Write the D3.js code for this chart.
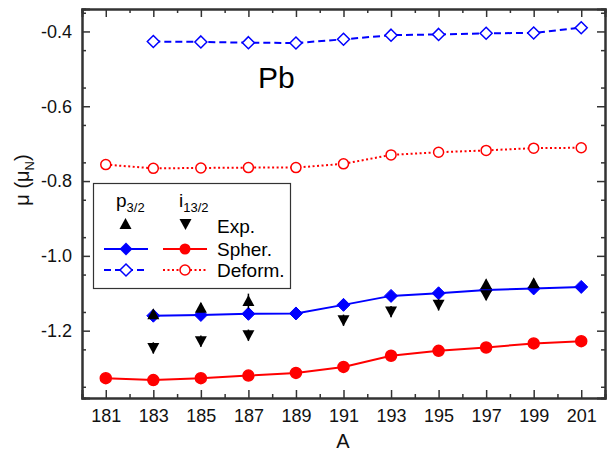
<!DOCTYPE html>
<html>
<head>
<meta charset="utf-8">
<script src="https://cdn.jsdelivr.net/npm/d3@7"></script>
<style>
  body { margin: 0; background: #fff; }
  svg { display: block; font-family: "Liberation Sans", Arial, sans-serif; }
</style>
</head>
<body>
<svg id="chart" width="608" height="453"></svg>
<script>
// mass numbers
const pA = [183, 185, 187, 189, 191, 193, 195, 197, 199, 201];
const iA = [181, 183, 185, 187, 189, 191, 193, 195, 197, 199, 201];

// p3/2 (blue) and i13/2 (red) calculations
const pSpher  = [-1.160, -1.158, -1.155, -1.154, -1.131, -1.107, -1.100, -1.091, -1.087, -1.083];
const pDeform = [-0.427, -0.428, -0.430, -0.431, -0.421, -0.410, -0.408, -0.405, -0.404, -0.390];
const iSpher  = [-1.327, -1.332, -1.327, -1.320, -1.313, -1.297, -1.267, -1.254, -1.245, -1.234, -1.228];
const iDeform = [-0.756, -0.766, -0.765, -0.764, -0.764, -0.754, -0.730, -0.723, -0.718, -0.712, -0.711];

// experiment
const expPA  = [183, 185, 187, 197, 199];
const expPMu = [-1.156, -1.139, -1.121, -1.076, -1.073];
const expPErr = [0.012, 0.012, 0.02, 0.012, 0.012];
const expIA  = [183, 185, 187, 191, 193, 195, 197];
const expIMu = [-1.246, -1.228, -1.212, -1.172, -1.149, -1.131, -1.105];
const expIErr = [0.015, 0.015, 0.015, 0.015, 0.015, 0.015, 0.012];

const xTicks = [181, 183, 185, 187, 189, 191, 193, 195, 197, 199, 201];
const yTicks = [-0.4, -0.6, -0.8, -1.0, -1.2];

const BLUE = "#0000ff", RED = "#ff0000", FRAME = "#333";

var svg = d3.select("#chart");
var mLeft = 82, mRight = 605, mTop = 9, mBottom = 398;

var x = d3.scaleLinear().domain([180, 202]).range([mLeft, mRight]);
var y = d3.scaleLinear().domain([-1.38, -0.34]).range([mBottom, mTop]);

// axes: ticks pointing inward on all four sides
function frameAxis(axis, tx, ty, labels) {
    var g = svg.append("g").attr("transform", "translate(" + tx + "," + ty + ")").call(axis);
    g.attr("font-family", null).attr("font-size", null);
    g.select(".domain").attr("stroke", FRAME).attr("stroke-width", 2);
    g.selectAll(".tick line").attr("stroke", FRAME).attr("stroke-width", 1.5);
    g.selectAll(".tick text").attr("fill", "#111").style("font-size", "18px");
    if (!labels) g.selectAll(".tick text").remove();
    return g;
}
var minorX = d3.range(180, 203, 1).filter(function (d) { return d % 2 == 0; });
var minorY = d3.range(-1.35, -0.34, 0.1).map(function (d) { return +d.toFixed(2); });

frameAxis(d3.axisBottom(x).tickValues(minorX).tickSize(-4).tickFormat(""), 0, mBottom, false);
frameAxis(d3.axisBottom(x).tickValues(xTicks).tickSize(-8).tickPadding(11).tickFormat(d3.format("d")), 0, mBottom, true);
frameAxis(d3.axisTop(x).tickValues(minorX).tickSize(-4).tickFormat(""), 0, mTop, false);
frameAxis(d3.axisTop(x).tickValues(xTicks).tickSize(-8).tickFormat(""), 0, mTop, false);
frameAxis(d3.axisLeft(y).tickValues(minorY).tickSize(-4).tickFormat(""), mLeft, 0, false);
frameAxis(d3.axisLeft(y).tickValues(yTicks).tickSize(-8).tickPadding(10).tickFormat(d3.format(".1f")), mLeft, 0, true)
    .selectAll(".tick text").text(function (d) { return d3.format(".1f")(d).replace("\u2212", "-"); });
frameAxis(d3.axisRight(y).tickValues(minorY).tickSize(-4).tickFormat(""), mRight, 0, false);
frameAxis(d3.axisRight(y).tickValues(yTicks).tickSize(-8).tickFormat(""), mRight, 0, false);

// axis titles
svg.append("text").attr("x", 343).attr("y", 448).attr("text-anchor", "middle")
    .style("font-size", "20px").attr("fill", "#111").text("A");
var yt = svg.append("text").attr("transform", "translate(29,180) rotate(-90)")
    .attr("text-anchor", "middle").style("font-size", "20px").attr("fill", "#111");
yt.append("tspan").text("\u03bc (\u03bc");
yt.append("tspan").attr("dy", 5).style("font-size", "13px").text("N");
yt.append("tspan").attr("dy", -5).text(")");

svg.append("text").attr("x", 258).attr("y", 88).style("font-size", "30px").attr("fill", "#000").text("Pb");

// marker shapes
var diamond = "M0,-6.5L6.5,0L0,6.5L-6.5,0Z";
var openDiamond = "M0,-6L6,0L0,6L-6,0Z";
var triUp = "M0,-6L6,5L-6,5Z";
var triDown = "M0,6L6,-5L-6,-5Z";

function series(xs, ys, color, dash, marker, filled) {
    var pts = xs.map(function (a, i) { return [a, ys[i]]; });
    var line = d3.line().x(function (d) { return x(d[0]); }).y(function (d) { return y(d[1]); });
    svg.append("path").datum(pts).attr("d", line).attr("fill", "none")
        .attr("stroke", color).attr("stroke-width", 2)
        .attr("stroke-dasharray", dash);
    var g = svg.append("g");
    if (marker == "diamond") {
        g.selectAll("path").data(pts).enter().append("path")
            .attr("d", filled ? diamond : openDiamond)
            .attr("transform", function (d) { return "translate(" + x(d[0]) + "," + y(d[1]) + ")"; })
            .attr("fill", filled ? color : "#fff").attr("stroke", color).attr("stroke-width", filled ? 1 : 1.5);
    } else {
        g.selectAll("circle").data(pts).enter().append("circle")
            .attr("cx", function (d) { return x(d[0]); })
            .attr("cy", function (d) { return y(d[1]); })
            .attr("r", filled ? 5.5 : 5)
            .attr("fill", filled ? color : "#fff").attr("stroke", color).attr("stroke-width", 1.5);
    }
}

series(pA, pDeform, BLUE, "7,4", "diamond", false);
series(iA, iDeform, RED, "2,2.5", "circle", false);
series(pA, pSpher, BLUE, null, "diamond", true);
series(iA, iSpher, RED, null, "circle", true);

function expPoints(xs, ys, errs, shape) {
    var pts = xs.map(function (a, i) { return [a, ys[i], errs[i]]; });
    var g = svg.append("g");
    g.selectAll("line").data(pts).enter().append("line")
        .attr("x1", function (d) { return x(d[0]); })
        .attr("x2", function (d) { return x(d[0]); })
        .attr("y1", function (d) { return y(d[1] - d[2]); })
        .attr("y2", function (d) { return y(d[1] + d[2]); })
        .attr("stroke", "#000").attr("stroke-width", 1.5);
    g.selectAll("path").data(pts).enter().append("path")
        .attr("d", shape)
        .attr("transform", function (d) { return "translate(" + x(d[0]) + "," + y(d[1]) + ")"; })
        .attr("fill", "#000");
}
expPoints(expPA, expPMu, expPErr, triUp);
expPoints(expIA, expIMu, expIErr, triDown);

// legend
var lg = svg.append("g");
lg.append("rect").attr("x", 93.5).attr("y", 183.5).attr("width", 197).attr("height", 105)
    .attr("fill", "#fff").attr("stroke", FRAME).attr("stroke-width", 1.2);
var lp = lg.append("text").attr("x", 116).attr("y", 207).style("font-size", "19px").attr("fill", "#000");
lp.append("tspan").text("p");
lp.append("tspan").attr("dy", 5).style("font-size", "13px").text("3/2");
var li = lg.append("text").attr("x", 179).attr("y", 207).style("font-size", "19px").attr("fill", "#000");
li.append("tspan").text("i");
li.append("tspan").attr("dy", 5).style("font-size", "13px").text("13/2");

var rows = [["Exp.", 226], ["Spher.", 249], ["Deform.", 270]];
lg.selectAll("text.lab").data(rows).enter().append("text").attr("class", "lab")
    .attr("x", 217).attr("y", function (d) { return d[1] + 7; })
    .style("font-size", "19px").attr("fill", "#000").text(function (d) { return d[0]; });

lg.append("path").attr("d", triUp).attr("transform", "translate(125.5,224)").attr("fill", "#000");
lg.append("path").attr("d", triDown).attr("transform", "translate(185.5,224)").attr("fill", "#000");

lg.append("line").attr("x1", 104).attr("x2", 148).attr("y1", 249).attr("y2", 249).attr("stroke", BLUE).attr("stroke-width", 2);
lg.append("path").attr("d", diamond).attr("transform", "translate(126,249)").attr("fill", BLUE);
lg.append("line").attr("x1", 163).attr("x2", 207).attr("y1", 249).attr("y2", 249).attr("stroke", RED).attr("stroke-width", 2);
lg.append("circle").attr("cx", 185).attr("cy", 249).attr("r", 5.5).attr("fill", RED);

lg.append("line").attr("x1", 104).attr("x2", 148).attr("y1", 270).attr("y2", 270).attr("stroke", BLUE)
    .attr("stroke-width", 2).attr("stroke-dasharray", "7,4");
lg.append("path").attr("d", openDiamond).attr("transform", "translate(126,270)")
    .attr("fill", "#fff").attr("stroke", BLUE).attr("stroke-width", 1.5);
lg.append("line").attr("x1", 163).attr("x2", 207).attr("y1", 270).attr("y2", 270).attr("stroke", RED)
    .attr("stroke-width", 2).attr("stroke-dasharray", "2,2.5");
lg.append("circle").attr("cx", 185).attr("cy", 270).attr("r", 5).attr("fill", "#fff")
    .attr("stroke", RED).attr("stroke-width", 1.5);
</script>
</body>
</html>
